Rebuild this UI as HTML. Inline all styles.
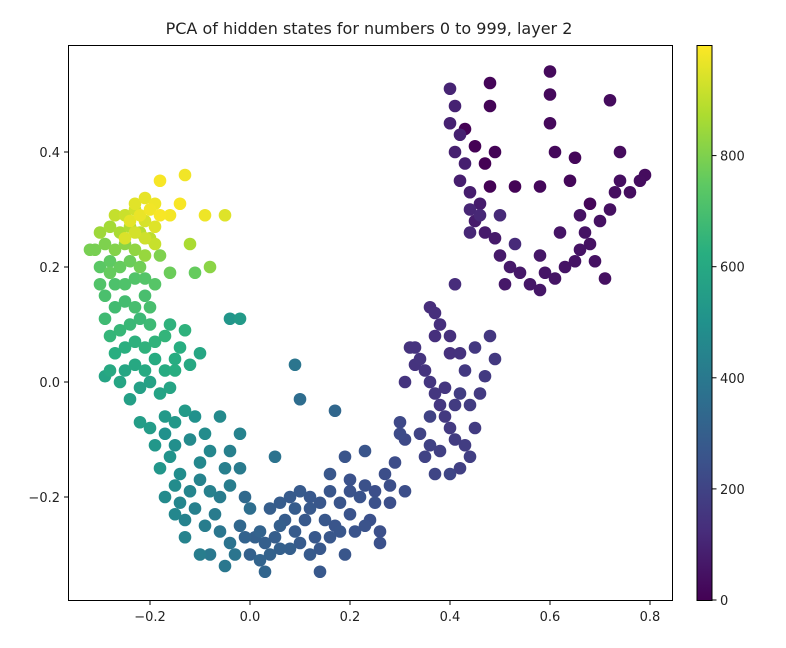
<!DOCTYPE html>
<html><head><meta charset="utf-8"><style>
body{margin:0;background:#fff;font-family:"Liberation Sans","DejaVu Sans",sans-serif}
svg text{font-family:"DejaVu Sans","Liberation Sans",sans-serif;fill:#222}
</style></head><body>
<svg id="chart" width="786" height="643" xmlns="http://www.w3.org/2000/svg">
<defs><linearGradient id="vir" x1="0" y1="1" x2="0" y2="0">
<stop offset="0" stop-color="#440154"/><stop offset="0.125" stop-color="#472d7b"/><stop offset="0.25" stop-color="#3b528b"/><stop offset="0.375" stop-color="#2c728e"/><stop offset="0.5" stop-color="#21918c"/><stop offset="0.625" stop-color="#28ae80"/><stop offset="0.75" stop-color="#5ec962"/><stop offset="0.875" stop-color="#addc30"/><stop offset="1" stop-color="#fde725"/></linearGradient></defs>
<text x="369" y="34" font-size="16" text-anchor="middle">PCA of hidden states for numbers 0 to 999, layer 2</text>
<g id="marks"></g>
<rect x="68.5" y="45.5" width="604" height="555" fill="none" stroke="#000" stroke-width="1"/>
<g id="axes"></g>
<rect x="697" y="45.5" width="15" height="555" fill="url(#vir)" stroke="#000" stroke-width="1"/>
<g id="cbaxis"></g>
</svg>
<script>
const xTicks=[-0.2,0.0,0.2,0.4,0.6,0.8];
const yTicks=[-0.2,0.0,0.2,0.4];
const cbTicks=[0,200,400,600,800];
const xs=[0.40,0.41,0.40,0.42,0.41,0.43,0.42,0.44,0.46,0.45,0.47,0.49,0.50,0.52,0.51,0.54,0.56,0.58,0.59,0.61,0.63,0.65,0.66,0.67,0.68,0.70,0.72,0.73,0.74,0.76,0.78,0.79,0.74,0.72,0.60,0.60,0.60,0.61,0.58,0.65,0.68,0.48,0.48,0.49,0.53,0.48,0.46,0.44,0.50,0.53,0.58,0.62,0.69,0.71,0.66,0.64,0.43,0.45,0.47,0.44,
0.41,0.37,0.38,0.40,0.40,0.42,0.33,0.34,0.35,0.36,0.37,0.38,0.39,0.40,0.41,0.43,0.44,0.38,0.36,0.35,0.37,0.40,0.42,0.45,0.47,0.49,0.48,0.45,0.43,0.46,0.44,0.42,0.39,0.33,0.31,0.30,0.31,0.34,0.36,0.41,0.32,0.36,0.37,
0.30,0.27,0.29,0.25,0.23,0.20,0.22,0.18,0.16,0.14,0.12,0.10,0.08,0.06,0.04,0.28,0.24,0.20,0.17,0.15,0.13,0.11,0.09,0.07,0.05,0.03,0.01,0.00,-0.01,0.02,0.04,0.06,0.08,0.10,0.12,0.14,0.16,0.18,0.21,0.23,0.19,0.25,0.26,0.03,0.02,0.06,0.09,0.12,0.16,0.19,0.23,0.17,0.10,0.05,0.00,0.20,0.28,0.31,0.26,0.14,
-0.02,-0.04,-0.06,-0.08,-0.05,-0.03,-0.07,-0.09,-0.11,-0.13,-0.12,-0.14,-0.10,-0.08,-0.06,-0.04,-0.02,-0.08,-0.10,-0.12,-0.15,-0.17,-0.16,-0.18,-0.14,-0.19,-0.17,-0.15,-0.13,-0.20,-0.22,-0.11,-0.09,-0.06,-0.15,-0.17,-0.13,-0.15,-0.04,-0.02,-0.10,-0.01,-0.05,
-0.24,-0.22,-0.20,-0.18,-0.16,-0.26,-0.25,-0.23,-0.21,-0.19,-0.17,-0.15,-0.14,-0.27,-0.25,-0.23,-0.21,-0.19,-0.17,-0.28,-0.26,-0.24,-0.22,-0.20,-0.16,-0.29,-0.27,-0.25,-0.23,-0.21,-0.29,-0.27,-0.25,-0.23,-0.30,-0.21,-0.20,-0.19,-0.28,-0.12,-0.10,-0.13,-0.04,-0.29,
-0.30,-0.28,-0.26,-0.24,-0.22,-0.31,-0.29,-0.27,-0.25,-0.23,-0.21,-0.30,-0.28,-0.26,-0.24,-0.22,-0.20,-0.27,-0.25,-0.23,-0.21,-0.19,-0.24,-0.22,-0.20,-0.18,-0.16,-0.19,-0.21,-0.23,-0.25,-0.23,-0.21,-0.19,-0.28,-0.18,-0.14,-0.18,-0.13,-0.09,-0.05,-0.12,-0.08,-0.11,-0.16,-0.32,
0.09,-0.02,-0.15];
const ys=[0.51,0.48,0.45,0.43,0.40,0.38,0.35,0.33,0.31,0.28,0.26,0.25,0.22,0.20,0.17,0.19,0.17,0.16,0.19,0.18,0.20,0.21,0.23,0.26,0.24,0.28,0.30,0.33,0.35,0.33,0.35,0.36,0.40,0.49,0.54,0.50,0.45,0.40,0.34,0.39,0.31,0.52,0.48,0.40,0.34,0.34,0.29,0.30,0.29,0.24,0.22,0.26,0.21,0.18,0.29,0.35,0.44,0.41,0.38,0.26,
0.17,0.12,0.10,0.08,0.05,0.05,0.06,0.04,0.02,0.00,-0.02,-0.04,-0.06,-0.08,-0.10,-0.11,-0.13,-0.12,-0.11,-0.13,-0.16,-0.16,-0.15,-0.08,0.01,0.04,0.08,0.06,0.02,-0.02,-0.04,-0.02,-0.01,0.03,0.00,-0.07,-0.10,-0.09,-0.06,-0.04,0.06,0.13,0.08,
-0.09,-0.16,-0.14,-0.19,-0.18,-0.17,-0.20,-0.21,-0.19,-0.21,-0.20,-0.19,-0.20,-0.21,-0.22,-0.21,-0.24,-0.23,-0.25,-0.24,-0.27,-0.24,-0.26,-0.24,-0.27,-0.28,-0.27,-0.30,-0.27,-0.31,-0.30,-0.29,-0.29,-0.28,-0.30,-0.29,-0.27,-0.26,-0.26,-0.25,-0.30,-0.21,-0.26,-0.33,-0.26,-0.25,-0.22,-0.22,-0.16,-0.13,-0.12,-0.05,-0.03,-0.13,-0.22,-0.19,-0.18,-0.19,-0.28,-0.33,
-0.25,-0.28,-0.26,-0.30,-0.32,-0.30,-0.23,-0.25,-0.22,-0.24,-0.19,-0.21,-0.17,-0.19,-0.20,-0.18,-0.15,-0.12,-0.14,-0.10,-0.11,-0.09,-0.13,-0.15,-0.16,-0.11,-0.06,-0.07,-0.05,-0.08,-0.07,-0.06,-0.09,-0.06,-0.18,-0.20,-0.27,-0.23,-0.12,-0.09,-0.30,-0.20,-0.15,
-0.03,-0.01,0.00,-0.02,-0.01,0.00,0.02,0.03,0.02,0.04,0.02,0.04,0.06,0.05,0.06,0.07,0.06,0.07,0.08,0.08,0.09,0.10,0.11,0.10,0.10,0.11,0.13,0.14,0.13,0.15,0.15,0.17,0.17,0.18,0.17,0.18,0.13,0.17,0.02,0.03,0.05,0.09,0.11,0.01,
0.20,0.21,0.20,0.21,0.20,0.23,0.24,0.23,0.24,0.23,0.22,0.26,0.27,0.26,0.27,0.26,0.25,0.29,0.29,0.30,0.28,0.27,0.28,0.29,0.30,0.29,0.29,0.31,0.32,0.31,0.25,0.26,0.25,0.24,0.19,0.22,0.31,0.35,0.36,0.29,0.29,0.24,0.20,0.19,0.19,0.23,
0.03,0.11,0.02];
const vals=[100,95,92,90,88,85,83,80,78,76,74,72,70,68,66,64,62,60,58,56,54,52,50,48,46,44,42,40,38,36,34,32,30,28,26,24,22,20,18,16,14,12,10,8,6,4,110,105,115,120,62,55,45,43,47,17,3,2,1,108,
125,130,132,135,140,142,145,148,150,155,158,160,165,170,175,180,185,190,195,200,205,210,190,172,168,165,160,162,163,170,175,178,156,146,150,215,218,198,196,172,144,128,133,
225,235,232,240,245,250,255,260,265,270,275,280,285,290,295,240,248,255,262,268,272,278,284,288,295,300,305,310,315,320,312,306,300,285,282,275,270,265,258,252,265,245,242,325,318,300,290,276,268,262,260,330,355,380,360,252,238,236,246,275,
330,380,390,400,395,385,410,420,430,440,450,455,445,435,415,420,410,460,465,470,490,500,510,520,485,525,535,530,540,545,550,500,480,470,480,470,445,460,430,440,420,340,425,
560,565,570,575,580,585,590,600,605,610,612,615,620,625,630,635,640,645,650,655,660,665,670,675,640,680,685,690,695,700,705,710,715,720,722,725,700,730,600,600,590,640,520,580,
740,750,760,770,780,790,800,810,820,830,840,850,860,870,880,890,900,910,920,930,940,950,960,970,980,990,985,975,965,955,945,935,925,915,760,800,990,990,980,975,950,870,820,760,770,790,
385,540,620];
const X=v=>250+v*500, Y=v=>382-v*575, CB=v=>600-v*0.5555;
const stops=[[68,1,84],[71,45,123],[59,82,139],[44,114,142],[33,145,140],[40,174,128],[94,201,98],[173,220,48],[253,231,37]];
function vir(v){let t=Math.max(0,Math.min(1,v/999))*8,i=Math.min(7,Math.floor(t)),f=t-i,a=stops[i],b=stops[i+1];
return 'rgb('+a.map((c,k)=>Math.round(c+(b[k]-c)*f)).join(',')+')';}
const NS='http://www.w3.org/2000/svg';
function mk(tag,at,parent){const e=document.createElementNS(NS,tag);for(const k in at)e.setAttribute(k,at[k]);parent.appendChild(e);return e;}
const marks=document.getElementById('marks');
const order=vals.map((v,i)=>i).sort((a,b)=>vals[a]-vals[b]);
order.forEach(i=>{const c=mk('circle',{cx:X(xs[i]),cy:Y(ys[i]),r:6.3,fill:vir(vals[i])},marks);

});
const ax=document.getElementById('axes');
xTicks.forEach(t=>{const l=mk('line',{x1:X(t),x2:X(t),y1:600.5,y2:605,stroke:'#000'},ax);


const tx=mk('text',{x:X(t),y:621,'font-size':13,'text-anchor':'middle'},ax);tx.textContent=(t<0?'\u2212':'')+Math.abs(t).toFixed(1);

});
yTicks.forEach(t=>{const l=mk('line',{x1:64,x2:68.5,y1:Y(t),y2:Y(t),stroke:'#000'},ax);


const tx=mk('text',{x:60,y:Y(t)+5,'font-size':13,'text-anchor':'end'},ax);tx.textContent=(t<0?'\u2212':'')+Math.abs(t).toFixed(1);

});
const cb=document.getElementById('cbaxis');
cbTicks.forEach(t=>{const l=mk('line',{x1:712,x2:716.5,y1:CB(t),y2:CB(t),stroke:'#000'},cb);


const tx=mk('text',{x:720,y:CB(t)+5,'font-size':13},cb);tx.textContent=t;

});
</script>
</body></html>
